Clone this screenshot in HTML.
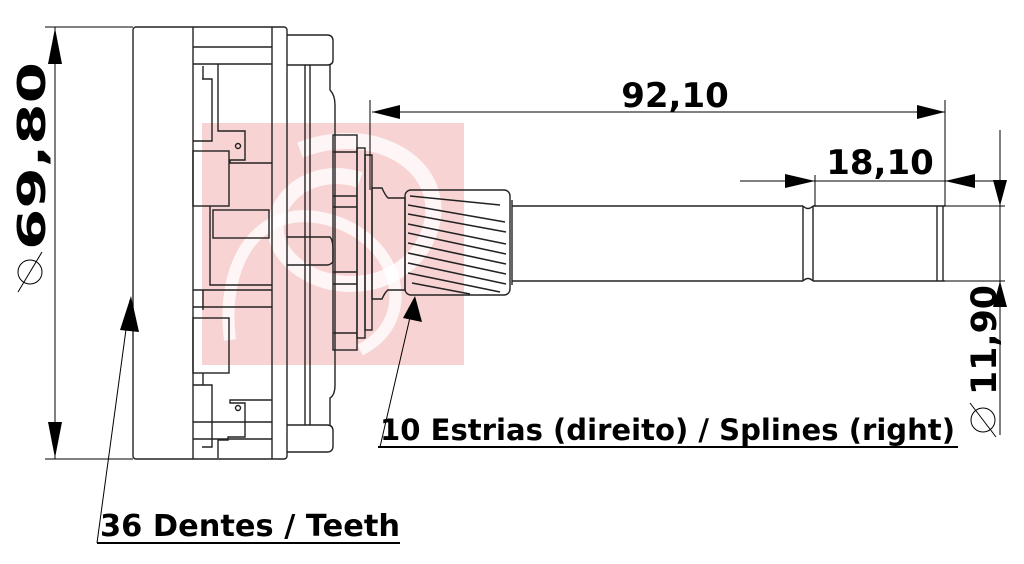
<!DOCTYPE html>
<html><head><meta charset="utf-8"><style>
html,body{margin:0;padding:0;background:#fff;}
svg{display:block;}
text{font-family:"DejaVu Sans","Liberation Sans",sans-serif;font-weight:bold;fill:#000;}
</style></head><body>
<svg width="1024" height="564" viewBox="0 0 1024 564" xmlns="http://www.w3.org/2000/svg">
<rect x="202" y="123" width="262" height="242" fill="#f8d3d3"/>
<path d="M300 150 C380 120 450 170 430 230 C410 290 330 300 290 260 C250 220 300 160 360 180" fill="none" stroke="#fff" stroke-width="16" opacity="0.8"/>
<path d="M230 340 C220 260 260 200 330 220 C400 240 420 320 360 350" fill="none" stroke="#fff" stroke-width="12" opacity="0.8"/>

<g fill="none" stroke="#222" stroke-width="1.4">
<rect x="133" y="27" width="154" height="432" rx="3"/>
<line x1="193" y1="27" x2="193" y2="459"/>
<line x1="272" y1="27" x2="272" y2="459"/>
<line x1="193" y1="47" x2="272" y2="47"/>
<line x1="193" y1="64" x2="272" y2="64"/>
<line x1="193" y1="439" x2="272" y2="439"/>
<line x1="193" y1="422" x2="272" y2="422"/>
<polyline points="202,79 212,79 212,141 193,141"/>
<line x1="203" y1="66" x2="203" y2="79"/>
<polyline points="218,64 218,131 245,131 245,160 230,160 230,163 272,163"/>
<circle cx="238" cy="146" r="2.5"/>
<rect x="193" y="151" width="36" height="55"/>
<rect x="213" y="210" width="56" height="28"/>
<polyline points="210,206 210,285 272,285"/>
<line x1="193" y1="290" x2="272" y2="290"/>
<line x1="193" y1="307" x2="272" y2="307"/>
<line x1="203" y1="290" x2="203" y2="310"/>
<rect x="193" y="318" width="36" height="55"/>
<line x1="203" y1="373" x2="203" y2="385"/>
<polyline points="193,385 212,385 212,447 202,447"/>
<polyline points="218,458 218,440 228,440 228,437 245,437 245,403 230,403 230,400 272,400"/>
<circle cx="238" cy="408" r="2.5"/>
<path d="M287 35 L327 35 Q333 35 333 41 L333 60 Q333 65 327 65 L287 65"/>
<path d="M287 425 L327 425 Q333 425 333 431 L333 446 Q333 452 327 452 L287 452"/>
<line x1="305" y1="65" x2="305" y2="425"/>
<line x1="310" y1="65" x2="310" y2="425"/>
<path d="M330 65 L330 90 Q335 95 335 105 L335 385 Q335 395 330 398 L330 425"/>
<path d="M287 237 L330 237 Q333 240 333 250 L333 262 Q330 265 327 265 L287 265"/>
<rect x="333" y="135" width="24" height="215"/>
<line x1="333" y1="152" x2="357" y2="152"/>
<line x1="333" y1="196" x2="357" y2="196"/>
<line x1="333" y1="207" x2="357" y2="207"/>
<line x1="333" y1="272" x2="357" y2="272"/>
<line x1="333" y1="284" x2="357" y2="284"/>
<line x1="333" y1="333" x2="357" y2="333"/>
<rect x="357" y="148" width="8" height="190"/>
<rect x="365" y="155" width="7" height="175"/>
<path d="M372 188 L382 188 Q385 195 388 198 L405 198 L405 290 L388 290 Q385 292 382 299 L372 299 Z"/>
<rect x="405" y="190" width="105" height="105" rx="6"/>
<g stroke-width="1.6">
<line x1="410" y1="196" x2="500" y2="205"/>
<line x1="408" y1="205" x2="505" y2="222"/>
<line x1="408" y1="214" x2="506" y2="232"/>
<line x1="408" y1="224" x2="506" y2="244"/>
<line x1="408" y1="233" x2="506" y2="254"/>
<line x1="408" y1="243" x2="506" y2="264"/>
<line x1="408" y1="253" x2="506" y2="274"/>
<line x1="408" y1="263" x2="506" y2="284"/>
<line x1="408" y1="273" x2="500" y2="292"/>
<line x1="412" y1="283" x2="470" y2="294"/>
</g>
<line x1="512" y1="200" x2="512" y2="285"/>
<line x1="512" y1="206" x2="803" y2="206"/>
<line x1="512" y1="281" x2="803" y2="281"/>
<path d="M803 206 Q808 211 813 206 M803 281 Q808 276 813 281"/>
<line x1="803" y1="206" x2="803" y2="281"/>
<line x1="813" y1="206" x2="813" y2="281"/>
<line x1="813" y1="206" x2="945" y2="206"/>
<line x1="813" y1="281" x2="945" y2="281"/>
<line x1="937" y1="206" x2="937" y2="281"/>
<line x1="943" y1="206" x2="943" y2="281"/>
</g>

<g stroke="#000" stroke-width="1" fill="none">
<line x1="45" y1="27" x2="133" y2="27"/>
<line x1="45" y1="459" x2="133" y2="459"/>
<line x1="55" y1="27" x2="55" y2="459"/>
<line x1="370" y1="100" x2="370" y2="190"/>
<line x1="945" y1="100" x2="945" y2="206"/>
<line x1="372" y1="112" x2="945" y2="112"/>
<line x1="815" y1="175" x2="815" y2="206"/>
<line x1="740" y1="181" x2="1005" y2="181"/>
<line x1="945" y1="206" x2="1005" y2="206"/>
<line x1="945" y1="281" x2="1005" y2="281"/>
<line x1="1000" y1="130" x2="1000" y2="435"/>
<line x1="378" y1="447" x2="958" y2="447" stroke-width="2"/>
<line x1="380" y1="447" x2="414" y2="300"/>
<line x1="97" y1="543" x2="400" y2="543" stroke-width="2"/>
<line x1="97" y1="543" x2="130" y2="300"/>
</g>
<g fill="#000">
<polygon points="55,28 48,64 62,64"/>
<polygon points="55,458 48,422 62,422"/>
<polygon points="372,112 400,105 400,119"/>
<polygon points="945,112 917,105 917,119"/>
<polygon points="815,181 785,174 785,188"/>
<polygon points="945,181 975,174 975,188"/>
<polygon points="1000,206 993,180 1007,180"/>
<polygon points="1000,281 993,307 1007,307"/>
<polygon points="415,296 403,318 422,322"/>
<polygon points="131,296 120,330 139,332"/>
</g>
<text x="675" y="107" font-size="34" text-anchor="middle">92,10</text>
<text x="880" y="174" font-size="34" text-anchor="middle">18,10</text>
<text transform="translate(45,250) rotate(-90)" font-size="38" textLength="188" lengthAdjust="spacingAndGlyphs">69,80</text>
<g fill="none" stroke="#000" stroke-width="1"><circle cx="30" cy="272" r="12"/><line x1="18" y1="292" x2="42" y2="252"/></g>
<text x="0" y="0" transform="translate(996,395) rotate(-90)" font-size="35" textLength="110" lengthAdjust="spacingAndGlyphs">11,90</text>
<g fill="none" stroke="#000" stroke-width="1"><circle cx="983" cy="420" r="12"/><line x1="970" y1="403" x2="996" y2="437"/></g>
<text x="380" y="440" font-size="29" textLength="575" lengthAdjust="spacingAndGlyphs">10 Estrias (direito) / Splines (right)</text>
<text x="100" y="536" font-size="30" textLength="300" lengthAdjust="spacingAndGlyphs">36 Dentes / Teeth</text>
</svg>
</body></html>
